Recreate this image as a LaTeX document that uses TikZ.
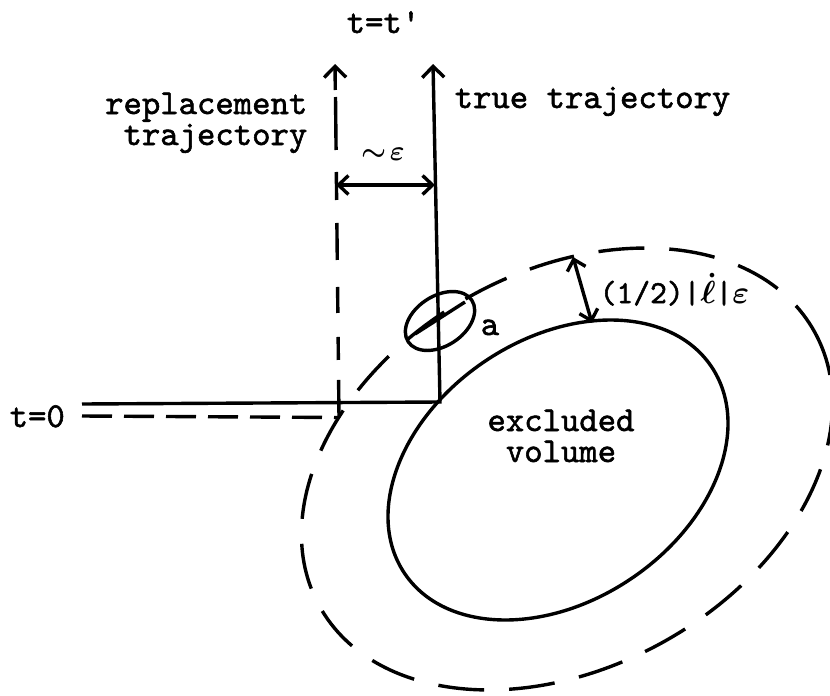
\RequirePackage{fix-cm}
\documentclass[tikz,border=0pt]{standalone}
\usepackage{fontspec}
\newfontfamily\twfont{lmmono10-regular.otf}[FakeBold=1.6]
\usetikzlibrary{arrows.meta}
\begin{document}
\begin{tikzpicture}[x=1pt,y=-1pt, line width=3.4pt,
  lbl/.style={font=\fontsize{35}{31}\selectfont\twfont\boldmath, inner sep=0pt},
  tipend/.style={-{Straight Barb[length=11pt,width=22pt]}},
  twotip/.style={{Straight Barb[length=10pt,width=19pt]}-{Straight Barb[length=10pt,width=19pt]}},
  dshhor/.style={dash pattern=on 30pt off 12pt},
  dshver/.style={dash pattern=on 53pt off 22pt on 28pt off 23pt on 37pt off 27pt on 26pt off 24pt on 23pt off 20pt on 40pt off 10pt},
  dshoval/.style={dash pattern=on 46pt off 25pt}]
\useasboundingbox (0,0) rectangle (830,696);
% trajectories
\coordinate (T0) at (82,404);
\coordinate (Tc) at (440,402);
\coordinate (Tt) at (433,64);
\coordinate (R0) at (82,416);
\coordinate (Rc) at (339,417.5);
\coordinate (Ra) at (335.5,97);
\coordinate (Rb) at (335.3,90);
\coordinate (Rt) at (335,64);
\draw[tipend] (T0) -- (Tc) -- (Tt);
\draw[dshhor] (R0) -- (Rc);
\draw[dshver] (Ra) -- (Rc);
\draw[tipend] (Rb) -- (Rt);
% epsilon separation
\coordinate (E1) at (336,185);
\coordinate (E2) at (435,185);
\draw[twotip] (E1) -- (E2);
% excluded volume
\draw[rotate around={34:(558,470)}] (558,470) ellipse [x radius=185, y radius=131];
\draw[dshoval, rotate around={29:(567,469)}] (567,469) ellipse [x radius=283, y radius=198];
% small particle
\draw[rotate around={33:(440,321)}] (440,321) ellipse [x radius=38, y radius=25];
\coordinate (P1) at (415,334);
\coordinate (P2) at (465,302);
\draw (P1) -- (P2);
% gap arrow
\coordinate (H1) at (573,257);
\coordinate (H2) at (592,323);
\draw[twotip] (H1) -- (H2);
% labels
\node[lbl, anchor=base west] (ttp) at (345,33) {t=t'};
\node[lbl, anchor=base east, align=right] (rep) at (309,145) {replacement\\trajectory};
\node[lbl, anchor=base west] (tru) at (453,108) {true trajectory};
\node[lbl, anchor=base west] (tz) at (8,427) {t=0};
\node[lbl, anchor=base, align=center] (exc) at (561,462) {excluded\\volume};
\node[lbl, anchor=base] (pa) at (490,335) {a};
\node[lbl, anchor=base, font=\fontsize{28}{30}\selectfont\boldmath] (eps) at (383,160) {$\sim\!\varepsilon$};
\node[lbl, anchor=base west, font=\fontsize{32}{34}\selectfont\twfont\boldmath] (half) at (598,303) {(1/2)|$\dot{\ell}$|$\varepsilon$};
\end{tikzpicture}
\end{document}
